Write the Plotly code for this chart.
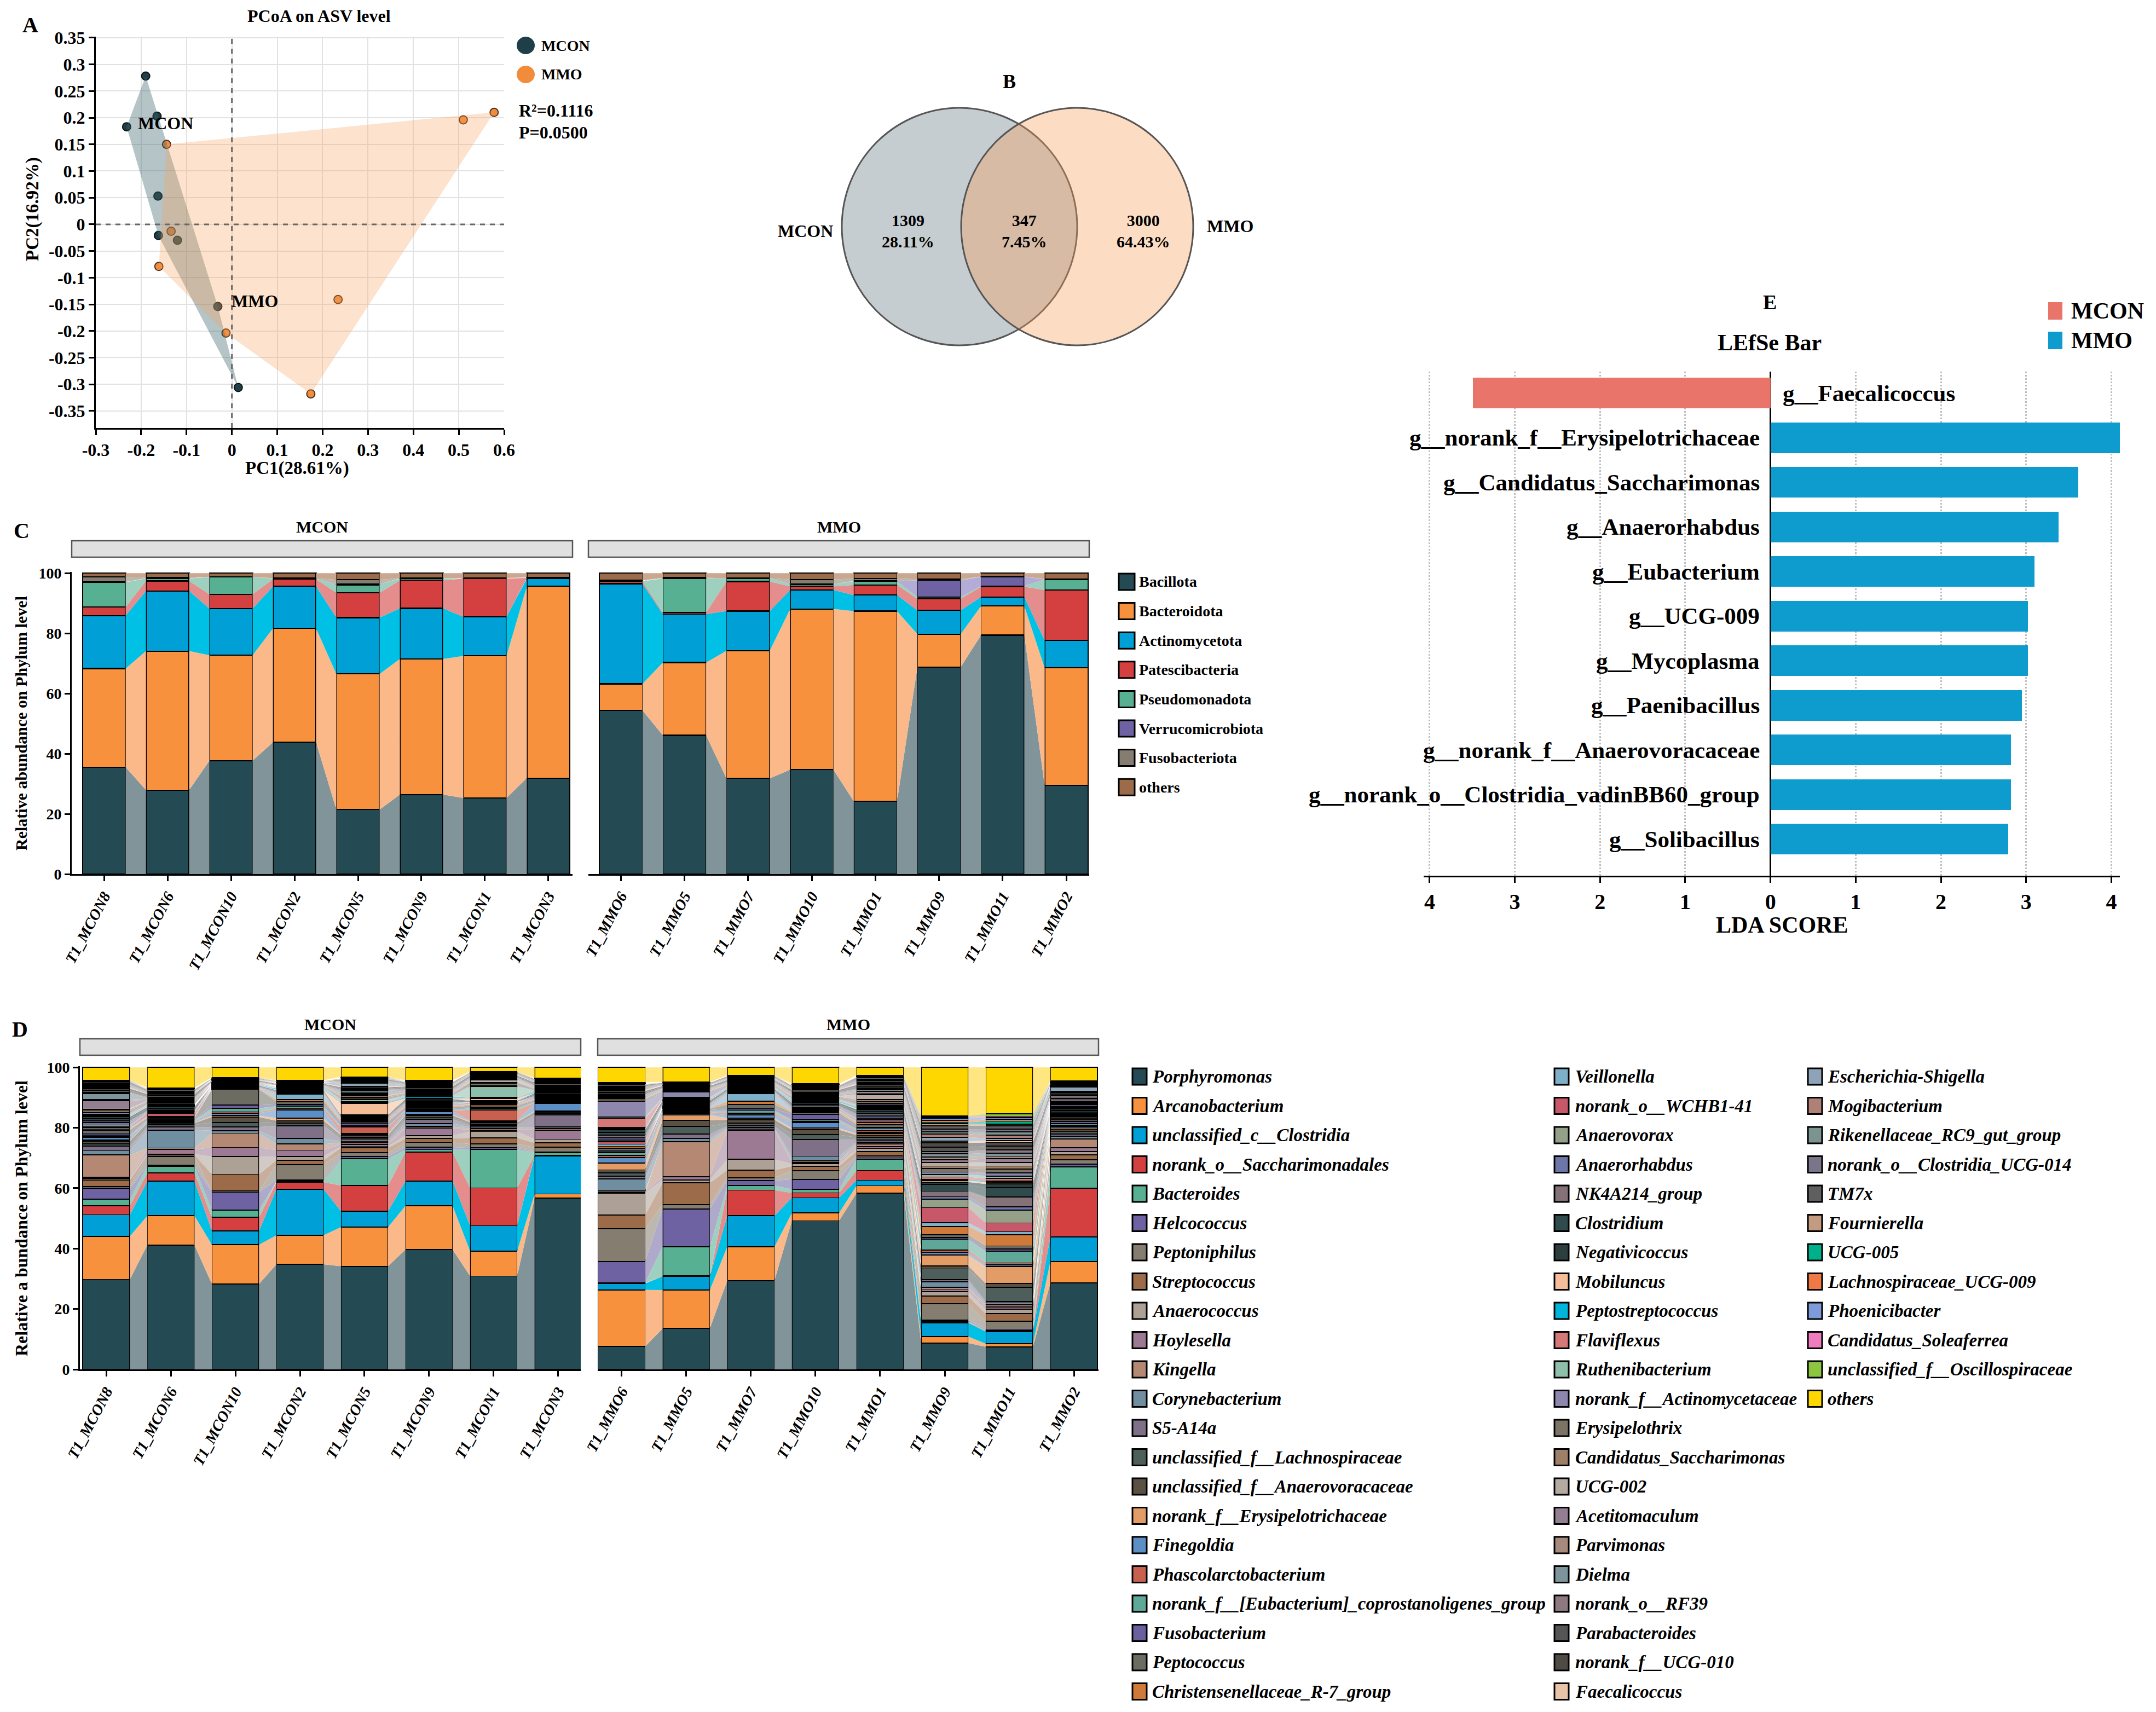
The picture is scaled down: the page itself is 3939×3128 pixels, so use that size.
import plotly.graph_objects as go

W, H = 3939, 3128
FONT = "Liberation Serif"


def X(p):
    return p / W


def Y(p):
    return 1 - p / H


# ======================= Panel A : PCoA =======================
MCON_PC1 = [-0.190, -0.232, -0.165, -0.163, -0.162, -0.120, -0.031, 0.014]
MCON_PC2 = [0.278, 0.183, 0.203, 0.053, -0.021, -0.030, -0.154, -0.306]
MMO_PC1 = [0.578, 0.510, -0.144, -0.134, -0.161, 0.234, -0.013, 0.174]
MMO_PC2 = [0.210, 0.196, 0.150, -0.013, -0.079, -0.141, -0.204, -0.318]
PC1_TITLE = "PC1(28.61%)"
PC2_TITLE = "PC2(16.92%)"
PERMANOVA_R2 = "0.1116"
PERMANOVA_P = "0.0500"
A_XTICKS = [-0.3, -0.2, -0.1, 0, 0.1, 0.2, 0.3, 0.4, 0.5, 0.6]
A_YTICKS = [0.35, 0.3, 0.25, 0.2, 0.15, 0.1, 0.05, 0, -0.05, -0.1, -0.15, -0.2, -0.25, -0.3, -0.35]
A_GROUP_LABEL_POS = {"MCON": (-0.146, 0.19), "MMO": (0.05, -0.144)}

# ======================= Panel B : Venn =======================
VENN_SETS = ["MCON", "MMO"]
VENN_MCON_ONLY = 1309
VENN_SHARED = 347
VENN_MMO_ONLY = 3000

# ======================= Panel C : phylum =======================
SAMPLES_MCON = ["T1_MCON8", "T1_MCON6", "T1_MCON10", "T1_MCON2", "T1_MCON5", "T1_MCON9", "T1_MCON1", "T1_MCON3"]
SAMPLES_MMO = ["T1_MMO6", "T1_MMO5", "T1_MMO7", "T1_MMO10", "T1_MMO1", "T1_MMO9", "T1_MMO11", "T1_MMO2"]
PHYLA = ["Bacillota", "Bacteroidota", "Actinomycetota", "Patescibacteria", "Pseudomonadota",
         "Verrucomicrobiota", "Fusobacteriota", "others"]
BACILLOTA = [35.5, 27.9, 37.7, 43.8, 21.4, 26.4, 25.3, 31.9, 54.4, 46.1, 31.8, 34.7, 24.2, 68.8, 79.4, 29.4]
BACTEROIDOTA = [32.8, 46.2, 35.0, 37.8, 45.1, 45.1, 47.2, 63.7, 8.8, 24.2, 42.4, 53.4, 63.2, 10.9, 9.7, 39.1]
ACTINOMYCETOTA = [17.6, 20.0, 15.5, 14.0, 18.7, 16.8, 13.0, 2.6, 33.3, 16.1, 13.2, 6.3, 5.3, 7.9, 3.0, 9.1]
PATESCIBACTERIA = [2.8, 3.3, 4.8, 2.4, 8.3, 9.3, 12.7, 0.2, 0.8, 0.5, 9.8, 1.2, 3.4, 3.9, 3.4, 16.8]
PSEUDOMONADOTA = [8.3, 0.8, 5.7, 0.2, 2.6, 0.6, 0.1, 0.1, 0.1, 11.3, 1.0, 0.6, 1.2, 0.6, 0.2, 3.5]
VERRUCOMICROBIOTA = [0.1, 0.1, 0.0, 0.0, 0.2, 0.0, 0.0, 0.0, 0.1, 0.1, 0.0, 0.2, 0.1, 5.5, 3.1, 0.0]
FUSOBACTERIOTA = [1.6, 0.2, 0.1, 0.1, 1.5, 0.1, 0.1, 0.1, 0.1, 0.2, 0.1, 1.5, 0.8, 0.4, 0.1, 0.1]
PHYLUM_OTHERS = [1.3, 1.5, 1.2, 1.7, 2.2, 1.7, 1.6, 1.4, 2.4, 1.5, 1.7, 2.1, 1.8, 2.0, 1.1, 2.0]
PHYLUM_VALUES = [BACILLOTA, BACTEROIDOTA, ACTINOMYCETOTA, PATESCIBACTERIA, PSEUDOMONADOTA,
                 VERRUCOMICROBIOTA, FUSOBACTERIOTA, PHYLUM_OTHERS]

# ======================= Panel D : genus =======================
GENERA = ["Porphyromonas", "Arcanobacterium", "unclassified_c__Clostridia", "norank_o__Saccharimonadales",
          "Bacteroides", "Helcococcus", "Peptoniphilus", "Streptococcus", "Anaerococcus", "Hoylesella",
          "Kingella", "Corynebacterium", "S5-A14a", "unclassified_f__Lachnospiraceae",
          "unclassified_f__Anaerovoracaceae", "norank_f__Erysipelotrichaceae", "Finegoldia",
          "Phascolarctobacterium", "norank_f__[Eubacterium]_coprostanoligenes_group", "Fusobacterium",
          "Peptococcus", "Christensenellaceae_R-7_group", "Veillonella", "norank_o__WCHB1-41", "Anaerovorax",
          "Anaerorhabdus", "NK4A214_group", "Clostridium", "Negativicoccus", "Mobiluncus",
          "Peptostreptococcus", "Flaviflexus", "Ruthenibacterium", "norank_f__Actinomycetaceae",
          "Erysipelothrix", "Candidatus_Saccharimonas", "UCG-002", "Acetitomaculum", "Parvimonas", "Dielma",
          "norank_o__RF39", "Parabacteroides", "norank_f__UCG-010", "Faecalicoccus", "Escherichia-Shigella",
          "Mogibacterium", "Rikenellaceae_RC9_gut_group", "norank_o__Clostridia_UCG-014", "TM7x",
          "Fournierella", "UCG-005", "Lachnospiraceae_UCG-009", "Phoenicibacter", "Candidatus_Soleaferrea",
          "unclassified_f__Oscillospiraceae", "others"]

# relative abundance (%) of each genus (in GENERA order) per sample
GENUS_ABUND = {
    "T1_MCON8": [29.7, 14.2, 7.1, 3.0, 2.1, 3.6, 0.6, 2.2, 0.5, 0.4, 7.3, 1.4, 1.5, 0.8, 0.9, 0.3, 0.9, 0.3, 0.5, 0.6, 0.9, 0.4, 0.5, 0.3, 0.6, 0.8, 0.6, 0.7, 0.6, 0.2, 0.2, 0.2, 0.3, 0.5, 0.6, 0.5, 0.4, 2.4, 0.4, 2.0, 0.4, 0.6, 0.6, 0.3, 0.3, 0.3, 0.3, 0.4, 0.5, 0.2, 0.1, 0.1, 0.1, 0.1, 0.1, 4.2],
    "T1_MCON6": [41.5, 9.8, 11.5, 2.8, 2.2, 0.3, 3.0, 0.5, 0.3, 1.5, 0.5, 6.0, 1.0, 0.7, 0.6, 0.2, 0.3, 0.2, 0.3, 0.2, 0.5, 0.3, 0.3, 1.0, 0.3, 0.2, 0.4, 0.6, 0.6, 0.2, 0.2, 0.2, 0.2, 0.3, 0.4, 0.3, 0.3, 0.3, 0.3, 0.3, 0.3, 0.5, 0.5, 0.2, 0.2, 0.2, 0.2, 0.2, 0.4, 0.2, 0.1, 0.1, 0.1, 0.1, 0.1, 6.8],
    "T1_MCON10": [28.1, 12.9, 4.5, 4.5, 2.4, 5.9, 0.5, 5.4, 5.8, 3.0, 4.7, 0.8, 1.2, 1.5, 1.8, 0.5, 0.8, 0.4, 1.2, 1.0, 5.2, 0.2, 0.1, 0.2, 0.1, 0.1, 0.2, 0.2, 0.2, 0.1, 0.1, 0.1, 0.1, 0.1, 0.1, 0.1, 0.1, 0.1, 0.1, 0.1, 0.1, 0.2, 0.2, 0.1, 0.1, 0.1, 0.1, 0.1, 0.2, 0.1, 0.05, 0.05, 0.05, 0.05, 0.05, 3.3],
    "T1_MCON2": [34.4, 9.5, 15.1, 2.3, 0.3, 0.4, 5.0, 1.5, 1.2, 2.1, 2.0, 1.8, 4.2, 0.8, 0.8, 0.9, 2.6, 0.5, 0.8, 0.6, 0.9, 0.7, 1.7, 0.2, 0.2, 0.2, 0.3, 0.2, 0.2, 0.2, 0.4, 0.1, 0.1, 0.2, 0.1, 0.1, 0.1, 0.1, 0.1, 0.1, 0.2, 0.1, 0.2, 0.2, 0.1, 0.1, 0.1, 0.1, 0.1, 0.2, 0.1, 0.05, 0.05, 0.05, 0.05, 4.2],
    "T1_MCON5": [33.7, 12.8, 5.2, 8.4, 8.7, 0.8, 1.2, 1.6, 0.5, 0.6, 0.5, 0.5, 0.8, 0.6, 0.6, 0.4, 0.3, 2.0, 0.4, 0.8, 0.4, 0.4, 0.3, 0.3, 0.3, 0.3, 0.3, 0.3, 0.2, 3.8, 0.2, 0.3, 0.6, 0.3, 0.5, 0.5, 0.3, 0.3, 0.3, 0.8, 0.3, 0.4, 0.4, 0.3, 1.0, 0.3, 0.3, 0.3, 0.4, 0.3, 0.1, 0.1, 0.1, 0.1, 0.1, 3.1],
    "T1_MCON9": [38.9, 14.2, 8.0, 9.4, 0.8, 0.8, 1.5, 1.3, 1.0, 2.4, 0.5, 1.0, 1.4, 0.6, 0.6, 0.3, 1.0, 0.3, 0.3, 0.3, 0.5, 0.3, 0.3, 0.3, 0.3, 0.3, 0.3, 0.4, 0.4, 0.2, 0.5, 0.2, 0.2, 0.3, 0.3, 0.3, 0.2, 0.3, 0.2, 0.3, 0.3, 0.4, 0.4, 0.2, 0.2, 0.2, 0.2, 0.2, 0.3, 0.2, 0.1, 0.1, 0.1, 0.1, 0.1, 4.2],
    "T1_MCON1": [30.9, 8.3, 8.4, 12.5, 12.8, 0.5, 1.3, 2.0, 2.1, 0.5, 0.5, 0.5, 0.5, 0.5, 0.5, 0.4, 0.2, 3.6, 0.5, 0.3, 0.5, 0.4, 0.3, 0.2, 0.2, 0.1, 0.1, 0.2, 0.2, 0.8, 0.2, 0.2, 3.5, 0.2, 1.0, 0.2, 0.8, 0.2, 0.2, 0.2, 0.2, 0.3, 0.3, 0.1, 0.2, 0.2, 0.2, 0.1, 0.2, 0.1, 0.05, 0.05, 0.05, 0.05, 0.05, 1.4],
    "T1_MCON3": [56.6, 1.4, 12.5, 0.2, 1.0, 0.2, 1.5, 1.5, 1.2, 3.0, 0.5, 0.5, 4.0, 0.5, 0.5, 0.3, 2.5, 0.2, 0.3, 0.2, 0.4, 0.2, 0.3, 0.2, 0.2, 0.3, 0.3, 0.4, 0.4, 0.1, 0.4, 0.2, 0.2, 0.2, 0.3, 0.2, 0.2, 0.2, 0.2, 0.3, 0.2, 0.4, 0.4, 0.1, 0.2, 0.2, 0.2, 0.2, 0.3, 0.1, 0.05, 0.05, 0.05, 0.05, 0.05, 3.5],
    "T1_MMO6": [7.5, 18.5, 2.1, 0.1, 0.1, 7.0, 10.7, 4.5, 7.1, 0.4, 0.4, 3.8, 1.0, 1.0, 1.0, 2.2, 1.8, 0.8, 0.8, 0.6, 0.9, 0.6, 0.7, 0.8, 0.6, 0.7, 0.8, 1.0, 0.8, 0.4, 0.3, 3.0, 0.5, 5.2, 0.4, 0.4, 0.3, 0.3, 0.3, 0.3, 0.3, 0.5, 0.5, 0.3, 0.3, 0.3, 0.3, 0.3, 0.5, 0.3, 0.1, 0.1, 0.1, 0.1, 0.1, 4.9],
    "T1_MMO5": [13.3, 12.5, 4.4, 0.2, 9.5, 12.2, 1.5, 7.0, 1.0, 1.0, 11.4, 1.0, 1.5, 2.5, 2.0, 1.7, 0.5, 0.4, 0.4, 0.3, 0.4, 0.3, 0.3, 0.3, 0.3, 0.3, 0.4, 0.4, 0.4, 0.2, 0.2, 0.3, 0.3, 1.7, 0.2, 0.2, 0.2, 0.2, 0.2, 0.2, 0.2, 0.3, 0.3, 0.1, 0.1, 0.2, 0.2, 0.2, 0.2, 0.1, 0.05, 0.05, 0.05, 0.05, 0.05, 4.7],
    "T1_MMO7": [29.2, 11.1, 10.2, 8.4, 1.5, 1.6, 1.0, 2.5, 3.5, 9.5, 0.5, 0.5, 0.5, 1.0, 1.0, 0.6, 1.0, 0.6, 0.8, 0.6, 1.5, 1.0, 2.5, 0.2, 0.2, 0.3, 0.2, 0.3, 0.3, 0.1, 0.2, 0.2, 0.2, 0.3, 0.2, 0.2, 0.2, 0.2, 0.2, 0.2, 0.2, 0.3, 0.3, 0.1, 0.2, 0.2, 0.2, 0.2, 0.3, 0.1, 0.05, 0.05, 0.05, 0.05, 0.05, 2.6],
    "T1_MMO10": [49.0, 2.6, 5.0, 1.6, 1.2, 3.3, 2.8, 1.5, 0.8, 0.5, 0.5, 1.5, 5.5, 1.6, 1.6, 0.6, 1.8, 0.4, 0.5, 1.8, 0.5, 0.4, 0.4, 0.3, 0.4, 0.4, 0.4, 0.5, 0.5, 0.2, 0.4, 0.2, 0.3, 0.3, 0.3, 0.3, 0.3, 0.3, 0.3, 0.3, 0.3, 0.4, 0.4, 0.2, 0.2, 0.2, 0.2, 0.2, 0.3, 0.2, 0.1, 0.1, 0.1, 0.1, 0.1, 5.4],
    "T1_MMO1": [57.3, 2.4, 1.8, 3.2, 3.7, 0.4, 0.6, 1.5, 0.9, 0.6, 0.9, 0.6, 0.7, 0.8, 0.8, 0.5, 0.4, 0.5, 0.6, 0.5, 0.8, 0.7, 0.5, 0.4, 0.6, 0.7, 0.7, 0.8, 0.7, 0.3, 0.4, 0.3, 0.4, 0.5, 0.6, 0.7, 1.5, 0.5, 0.6, 0.5, 0.4, 0.6, 0.6, 0.3, 0.3, 0.4, 0.4, 0.4, 0.5, 0.3, 0.1, 0.1, 0.1, 0.1, 0.1, 2.6],
    "T1_MMO9": [8.7, 2.1, 4.5, 0.2, 0.3, 0.5, 5.3, 2.5, 1.5, 0.8, 0.7, 1.7, 0.8, 3.5, 1.0, 3.6, 0.8, 0.8, 3.6, 0.6, 0.8, 2.8, 1.2, 5.0, 2.8, 0.8, 1.8, 2.2, 0.8, 0.5, 0.4, 0.8, 0.8, 0.8, 1.2, 0.8, 1.2, 0.8, 1.0, 1.0, 0.8, 1.4, 1.4, 0.6, 1.3, 1.0, 0.8, 0.8, 1.2, 0.6, 0.5, 0.6, 0.7, 0.4, 0.4, 16.0],
    "T1_MMO11": [7.3, 1.0, 3.9, 0.2, 0.2, 0.4, 2.5, 2.5, 1.5, 0.6, 0.8, 0.6, 0.5, 4.5, 1.2, 5.5, 0.6, 0.6, 3.8, 0.7, 1.0, 3.6, 1.0, 2.8, 4.2, 1.0, 3.2, 3.0, 1.2, 0.6, 0.4, 0.8, 0.8, 1.0, 1.2, 1.0, 1.2, 1.2, 0.8, 1.0, 1.0, 1.2, 1.2, 0.6, 0.8, 1.0, 1.0, 1.0, 1.0, 0.6, 0.9, 0.6, 0.5, 0.5, 0.8, 15.0],
    "T1_MMO2": [28.8, 7.1, 8.2, 16.2, 7.1, 1.0, 1.5, 1.5, 1.2, 1.2, 3.0, 0.8, 0.8, 0.8, 0.8, 0.5, 0.4, 0.4, 0.5, 0.8, 0.6, 0.4, 0.4, 0.4, 0.4, 0.4, 0.5, 0.5, 0.5, 0.2, 0.3, 0.3, 0.3, 0.4, 0.4, 0.4, 0.4, 0.4, 0.4, 0.5, 0.4, 0.6, 0.6, 0.3, 1.5, 0.3, 0.3, 0.3, 0.4, 0.2, 0.1, 0.1, 0.1, 0.1, 0.1, 4.5],
}

# ======================= Panel E : LEfSe =======================
LEFSE_TAXA = ["g__Faecalicoccus", "g__norank_f__Erysipelotrichaceae", "g__Candidatus_Saccharimonas",
              "g__Anaerorhabdus", "g__Eubacterium", "g__UCG-009", "g__Mycoplasma", "g__Paenibacillus",
              "g__norank_f__Anaerovoracaceae", "g__norank_o__Clostridia_vadinBB60_group", "g__Solibacillus"]
LEFSE_GROUP = ["MCON", "MMO", "MMO", "MMO", "MMO", "MMO", "MMO", "MMO", "MMO", "MMO", "MMO"]
LEFSE_LDA = [3.49, 4.10, 3.61, 3.38, 3.10, 3.02, 3.02, 2.95, 2.82, 2.82, 2.79]
E_TICKS = [-4, -3, -2, -1, 0, 1, 2, 3, 4]

# ======================= styles =======================
GROUP_COLORS = {"MCON": "#1F3F48", "MMO": "#F28C3A"}
LEFSE_COLORS = {"MCON": "#E9746A", "MMO": "#0E9BCD"}
PHYLUM_COLORS = ["#244A53", "#F7913D", "#00A0D6", "#D44040", "#58B093", "#6E62A3", "#857E70", "#9C6B49"]
PHYLUM_BAND = ["#80949A", "#FBB98A", "#00C0E6", "#E58C8C", "#9DD0BE", "#B3ACD6", "#BDB8AE", "#C9A88F"]
GENUS_COLORS = [
    "#244A53", "#F7913D", "#00A0D6", "#D44040", "#58B093", "#6E62A3", "#857E70", "#9C6B49", "#ADA196", "#9C7A93",
    "#B48873", "#6F8FA1", "#7F6F87", "#4E5F5B", "#5B5044", "#E39C66", "#5B8FC6", "#C8604F", "#5FA898", "#6B5F9E",
    "#6C6C62", "#D07A3A", "#7FB0C9", "#C7586A", "#95A088", "#6D76A8", "#857279", "#2F4B4B", "#2D3E3E", "#F5BE98",
    "#00B5D9", "#D47878", "#8DBFAA", "#8D86AD", "#7D7466", "#9E8068", "#B4AAA2", "#947F92", "#A68A7C", "#7D949C",
    "#8D7A80", "#555555", "#4F4A44", "#E8C3A7", "#8CA3B8", "#B07F76", "#7C9490", "#7A7589", "#5F5F5F", "#C29B80",
    "#00B08A", "#F07845", "#7E9AD8", "#F07CC0", "#8CC63F", "#FFD700"]
BAND_OVERRIDE = {0: "#80949A", 1: "#FBB98A", 2: "#00C0E6", 3: "#E58C8C", 4: "#9DD0BE", 55: "#FFE680"}


def lighten(hexc, a=0.55):
    r, g, b = int(hexc[1:3], 16), int(hexc[3:5], 16), int(hexc[5:7], 16)
    f = lambda c: int(round(255 - (255 - c) * a))
    return "rgb(%d,%d,%d)" % (f(r), f(g), f(b))


GENUS_BAND = [BAND_OVERRIDE.get(i, lighten(c)) for i, c in enumerate(GENUS_COLORS)]

for s, v in GENUS_ABUND.items():
    assert len(v) == len(GENERA), (s, len(v))


def convex_hull(xs, ys):
    pts = sorted(set(zip(xs, ys)))

    def cross(o, a, b):
        return (a[0] - o[0]) * (b[1] - o[1]) - (a[1] - o[1]) * (b[0] - o[0])

    lower, upper = [], []
    for p in pts:
        while len(lower) >= 2 and cross(lower[-2], lower[-1], p) <= 0:
            lower.pop()
        lower.append(p)
    for p in reversed(pts):
        while len(upper) >= 2 and cross(upper[-2], upper[-1], p) <= 0:
            upper.pop()
        upper.append(p)
    hull = lower[:-1] + upper[:-1]
    hull.append(hull[0])
    return [p[0] for p in hull], [p[1] for p in hull]


fig = go.Figure()
shapes = []
ann = []


def text(t, x, y, size, xanchor="center", yanchor="middle", angle=0, italic=False,
         xref="paper", yref="paper", xshift=0, color="black"):
    ann.append(dict(text=t, x=x, y=y, xref=xref, yref=yref, xanchor=xanchor, yanchor=yanchor,
                    textangle=angle, showarrow=False, xshift=xshift,
                    font=dict(family=FONT, size=size, color=color, weight="bold",
                              style="italic" if italic else "normal")))


# ---------------- A ----------------
fig.add_trace(go.Scatter(x=MCON_PC1, y=MCON_PC2, mode="markers", xaxis="x", yaxis="y",
                         marker=dict(size=15, color=GROUP_COLORS["MCON"], line=dict(color="#111", width=2))))
fig.add_trace(go.Scatter(x=MMO_PC1, y=MMO_PC2, mode="markers", xaxis="x", yaxis="y",
                         marker=dict(size=15, color=GROUP_COLORS["MMO"], line=dict(color="#4a3020", width=2))))
hx, hy = convex_hull(MCON_PC1, MCON_PC2)
fig.add_trace(go.Scatter(x=hx, y=hy, mode="lines", fill="toself", fillcolor="rgba(60,100,105,0.38)",
                         line=dict(width=0), xaxis="x", yaxis="y", hoverinfo="skip"))
hx, hy = convex_hull(MMO_PC1, MMO_PC2)
fig.add_trace(go.Scatter(x=hx, y=hy, mode="lines", fill="toself", fillcolor="rgba(248,160,90,0.30)",
                         line=dict(width=0), xaxis="x", yaxis="y", hoverinfo="skip"))
shapes.append(dict(type="line", xref="x", yref="y domain", x0=0, x1=0, y0=0, y1=1,
                   line=dict(color="#666", width=3, dash="dash")))
shapes.append(dict(type="line", xref="x domain", yref="y", x0=0, x1=1, y0=0, y1=0,
                   line=dict(color="#666", width=3, dash="dash")))
for g, (gx, gy) in A_GROUP_LABEL_POS.items():
    text(g, gx, gy, 32, xref="x", yref="y")
text("A", X(55), Y(45), 40)
text("PCoA on ASV level", X(583), Y(29), 32)
text(PC1_TITLE, X(543), Y(856), 33)
text(PC2_TITLE, X(59), Y(382), 33, angle=-90)
for k, g in enumerate(VENN_SETS):
    cy = 83 + 53 * k
    shapes.append(dict(type="circle", xref="paper", yref="paper", x0=X(944), x1=X(977), y0=Y(cy + 16),
                       y1=Y(cy - 16), fillcolor=GROUP_COLORS[g], line=dict(width=0)))
    text(g, X(987), Y(cy), 28, xanchor="left")
text("R\u00b2=" + PERMANOVA_R2, X(946), Y(202), 32, xanchor="left")
text("P=" + PERMANOVA_P, X(946), Y(242), 32, xanchor="left")

# ---------------- B ----------------
total = VENN_MCON_ONLY + VENN_SHARED + VENN_MMO_ONLY
shapes.append(dict(type="circle", xref="paper", yref="paper", x0=X(1538), x1=X(1968), y0=Y(631), y1=Y(197),
                   fillcolor="rgba(89,112,121,0.35)", line=dict(color="#555", width=3)))
shapes.append(dict(type="circle", xref="paper", yref="paper", x0=X(1756), x1=X(2180), y0=Y(631), y1=Y(197),
                   fillcolor="rgba(249,155,87,0.35)", line=dict(color="#555", width=3)))
for n, cx in [(VENN_MCON_ONLY, 1659), (VENN_SHARED, 1871), (VENN_MMO_ONLY, 2089)]:
    text("%d<br>%.2f%%" % (n, n / total * 100), X(cx), Y(422), 30)
text("B", X(1844), Y(149), 36)
text(VENN_SETS[0], X(1471), Y(422), 32)
text(VENN_SETS[1], X(2247), Y(413), 32)


# ---------------- stacked bars with alluvial bands ----------------
def add_stack(series_values, colors, band_colors, axes, width, line_w):
    for f, (xa, ya) in enumerate(axes):
        idx = list(range(f * 8, f * 8 + 8))
        pos = list(range(8))
        cum = [0.0] * 8
        for s, vals_all in enumerate(series_values):
            vals = [vals_all[i] for i in idx]
            lo = cum[:]
            hi = [lo[k] + vals[k] for k in range(8)]
            bx, by = [], []
            for k in range(7):
                x0 = k + width / 2
                x1 = k + 1 - width / 2
                bx += [x0, x1, x1, x0, x0, None]
                by += [lo[k], lo[k + 1], hi[k + 1], hi[k], lo[k], None]
            fig.add_trace(go.Scatter(x=bx, y=by, mode="lines", fill="toself", fillcolor=band_colors[s],
                                     line=dict(width=0), xaxis=xa, yaxis=ya, hoverinfo="skip"))
            fig.add_trace(go.Bar(x=pos, y=vals, width=width, xaxis=xa, yaxis=ya,
                                 marker=dict(color=colors[s], line=dict(color="black", width=line_w))))
            cum = hi


add_stack(PHYLUM_VALUES, PHYLUM_COLORS, PHYLUM_BAND, [("x3", "y3"), ("x4", "y4")], 0.68, 2.2)

ALL_SAMPLES = SAMPLES_MCON + SAMPLES_MMO
norm = {}
for s in ALL_SAMPLES:
    tot = sum(GENUS_ABUND[s])
    norm[s] = [v / tot * 100 for v in GENUS_ABUND[s]]
GENUS_SERIES = [[norm[s][g] for s in ALL_SAMPLES] for g in range(len(GENERA))]
add_stack(GENUS_SERIES, GENUS_COLORS, GENUS_BAND, [("x5", "y5"), ("x6", "y6")], 0.73, 1.8)

# strips / titles for C and D
for (x0, x1), g in zip([(131, 1046), (1075, 1990)], VENN_SETS):
    shapes.append(dict(type="rect", xref="paper", yref="paper", x0=X(x0), x1=X(x1), y0=Y(1018), y1=Y(988),
                       fillcolor="#E0E0E0", line=dict(color="#555", width=2.5)))
    text(g, X((x0 + x1) / 2), Y(962), 30)
for (x0, x1), g in zip([(146, 1061), (1092, 2007)], VENN_SETS):
    shapes.append(dict(type="rect", xref="paper", yref="paper", x0=X(x0), x1=X(x1), y0=Y(1928), y1=Y(1898),
                       fillcolor="#E0E0E0", line=dict(color="#555", width=2.5)))
    text(g, X((x0 + x1) / 2), Y(1871), 30)
text("C", X(39), Y(970), 40)
text("D", X(36), Y(1881), 40)
text("Relative abundance on Phylum level", X(39), Y(1322), 30, angle=-90)
text("Relative a bundance on Phylum level", X(39), Y(2226), 32, angle=-90)

# legend C
for k, name in enumerate(PHYLA):
    cy = 1063 + 53.6 * k
    shapes.append(dict(type="rect", xref="paper", yref="paper", x0=X(2044), x1=X(2073), y0=Y(cy + 15),
                       y1=Y(cy - 15), fillcolor=PHYLUM_COLORS[k], line=dict(color="black", width=3)))
    text(name, X(2079), Y(cy), 28, xanchor="left")

# legend D
COL_SQ = [2082, 2853, 3316]
COL_TX = [2103, 2876, 3337]
for k, name in enumerate(GENERA):
    c, r = k // 22, k % 22
    cy = 1967 + 53.5 * r
    shapes.append(dict(type="rect", xref="paper", yref="paper", x0=X(COL_SQ[c] - 13), x1=X(COL_SQ[c] + 13),
                       y0=Y(cy + 15), y1=Y(cy - 15), fillcolor=GENUS_COLORS[k],
                       line=dict(color="black", width=3)))
    text(name, X(COL_TX[c]), Y(cy), 33, xanchor="left", italic=True)

# ---------------- E ----------------
for grp in ["MCON", "MMO"]:
    ids = [i for i, g in enumerate(LEFSE_GROUP) if g == grp]
    sign = -1 if grp == "MCON" else 1
    fig.add_trace(go.Bar(y=ids, x=[sign * LEFSE_LDA[i] for i in ids], orientation="h", width=0.69,
                         xaxis="x2", yaxis="y2", marker=dict(color=LEFSE_COLORS[grp], line=dict(width=0))))
for i, (t, g) in enumerate(zip(LEFSE_TAXA, LEFSE_GROUP)):
    if g == "MMO":
        text(t, 0, i, 43, xanchor="right", xref="x2", yref="y2", xshift=-18)
    else:
        text(t, 0, i, 43, xanchor="left", xref="x2", yref="y2", xshift=20)
text("E", X(3233), Y(552), 38)
text("LEfSe Bar", X(3233), Y(626), 42)
text("LDA SCORE", X(3256), Y(1690), 42)
for k, g in enumerate(["MCON", "MMO"]):
    cy = 568 + 54 * k
    shapes.append(dict(type="rect", xref="paper", yref="paper", x0=X(3742), x1=X(3768), y0=Y(cy + 16),
                       y1=Y(cy - 16), fillcolor=LEFSE_COLORS[g], line=dict(width=0)))
    text(g, X(3782), Y(cy), 42, xanchor="left")

# ---------------- axes ----------------
bold = lambda s, it=False: dict(family=FONT, size=s, color="black", weight="bold",
                                style="italic" if it else "normal")
common = dict(showline=True, linecolor="black", linewidth=3, ticks="outside", tickcolor="black",
              tickwidth=2.5, ticklen=10, zeroline=False, showgrid=False, automargin=False)
nogrid_common = {k: v for k, v in common.items() if k != "showgrid"}

layout_axes = dict(
    xaxis=dict(domain=[X(175), X(921)], range=[-0.3, 0.6], anchor="y", tickvals=A_XTICKS,
               ticktext=["%g" % v for v in A_XTICKS], tickfont=bold(32), showgrid=True,
               gridcolor="#E2E2E2", gridwidth=2, **nogrid_common),
    yaxis=dict(domain=[Y(782), Y(67)], range=[-0.382, 0.352], anchor="x", tickvals=A_YTICKS,
               ticktext=["%g" % v for v in A_YTICKS], tickfont=bold(32), showgrid=True,
               gridcolor="#E2E2E2", gridwidth=2, **nogrid_common),
    xaxis2=dict(domain=[X(2601), X(3873)], range=[-4.07, 4.10], anchor="y2", tickvals=E_TICKS,
                ticktext=[str(abs(v)) for v in E_TICKS], tickfont=bold(40), showline=True, linecolor="black",
                linewidth=3, ticks="outside", ticklen=10, tickwidth=3, tickcolor="black", showgrid=True,
                gridcolor="#BDBDBD", griddash="dot", gridwidth=3, zeroline=True, zerolinecolor="black",
                zerolinewidth=2.5, automargin=False),
    yaxis2=dict(domain=[Y(1600), Y(679)], range=[10.82, -0.48], anchor="x2", showticklabels=False,
                showgrid=False, zeroline=False, showline=False, ticks="", automargin=False),
    xaxis3=dict(domain=[X(131), X(1046)], range=[-0.51, 7.38], anchor="y3", tickvals=list(range(8)),
                ticktext=SAMPLES_MCON, tickangle=-62, tickfont=bold(28, True), **common),
    yaxis3=dict(domain=[Y(1597), Y(1045)], range=[0, 100.4], anchor="x3", tickvals=[0, 20, 40, 60, 80, 100],
                tickfont=bold(28), **common),
    xaxis4=dict(domain=[X(1075), X(1990)], range=[-0.51, 7.36], anchor="y4", tickvals=list(range(8)),
                ticktext=SAMPLES_MMO, tickangle=-62, tickfont=bold(28, True), **common),
    yaxis4=dict(domain=[Y(1597), Y(1045)], range=[0, 100.4], anchor="x4", showticklabels=False,
                showline=False, ticks="", showgrid=False, zeroline=False, automargin=False),
    xaxis5=dict(domain=[X(146), X(1061)], range=[-0.41, 7.35], anchor="y5", tickvals=list(range(8)),
                ticktext=SAMPLES_MCON, tickangle=-62, tickfont=bold(28, True), **common),
    yaxis5=dict(domain=[Y(2502), Y(1948)], range=[0, 100.4], anchor="x5", tickvals=[0, 20, 40, 60, 80, 100],
                tickfont=bold(28), **common),
    xaxis6=dict(domain=[X(1092), X(2007)], range=[-0.37, 7.38], anchor="y6", tickvals=list(range(8)),
                ticktext=SAMPLES_MMO, tickangle=-62, tickfont=bold(28, True), **common),
    yaxis6=dict(domain=[Y(2502), Y(1948)], range=[0, 100.4], anchor="x6", showticklabels=False,
                showline=False, ticks="", showgrid=False, zeroline=False, automargin=False),
)

fig.update_layout(width=W, height=H, autosize=False,
                  margin=dict(l=0, r=0, t=0, b=0, pad=0, autoexpand=False), paper_bgcolor="white",
                  plot_bgcolor="white", barmode="stack", showlegend=False, font=dict(family=FONT),
                  shapes=shapes, annotations=ann, **layout_axes)

fig.write_html("out.html", config={"displayModeBar": False, "responsive": False},
               post_script="document.body.style.margin='0';")
